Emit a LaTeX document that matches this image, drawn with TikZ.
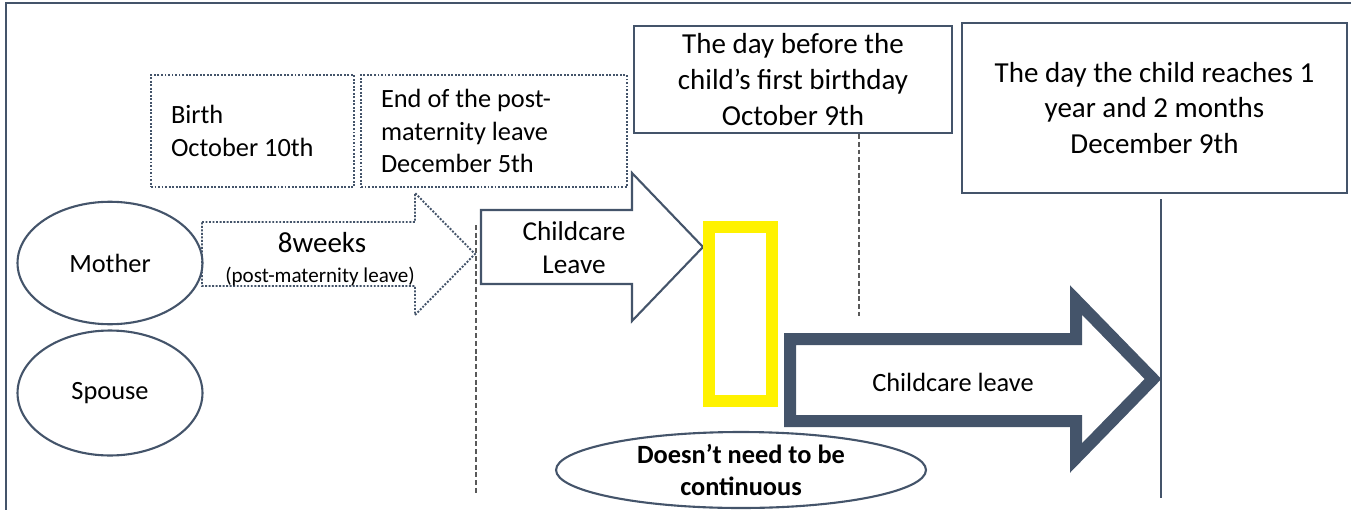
\documentclass[tikz,border=0pt]{standalone}
\usepackage{fontspec}
\setmainfont{Carlito}
\usetikzlibrary{shapes.geometric}
\definecolor{slate}{HTML}{44546A}
\definecolor{dashgray}{HTML}{595959}

\begin{document}
\begin{tikzpicture}[x=0.02cm,y=-0.02cm,
  actor/.style={ellipse,draw=slate,line width=1.2pt,minimum width=3.7cm,minimum height=2.45cm,font=\fontsize{15}{18}\selectfont},
  datebox/.style={draw=slate,line width=1.1pt,dash pattern=on 1.1pt off 0.9pt,align=flush left,text width=#1,inner xsep=0.4cm,minimum height=2.24cm,font=\fontsize{15}{18.5}\selectfont},
  markbox/.style={draw=slate,line width=1.2pt,align=center,font=\fontsize{16.5}{20.4}\selectfont},
  dayline/.style={dashgray,line width=0.7pt,dash pattern=on 2.8pt off 1.6pt},
  dotarrow/.style={slate,line width=1.1pt,dash pattern=on 1.1pt off 0.9pt}]
 \useasboundingbox (0,0) rectangle (1351,510);
 \draw[slate,line width=1.5pt] (6,510) -- (6,3) -- (1351,3);
 \node[actor] (mother) at (110,263) {Mother};
 \node[actor,minimum height=2.5cm] (spouse) at (110,393) {Spouse};
 \node[datebox=3.26cm] (birth) at (252.5,131) {Birth\\October 10th};
 \node[datebox=4.52cm] (postend) at (494,131) {End of the post-\\maternity leave\\December 5th};
 \node[markbox,minimum width=6.36cm,minimum height=2.14cm] (firstbday) at (793,79.5) {The day before the\\child’s first birthday\\October 9th};
 \node[markbox,minimum width=7.7cm,minimum height=3.4cm] (reach) at (1154.5,108) {The day the child reaches 1\\year and 2 months\\December 9th};
 \coordinate (endpost) at (476,495);
 \coordinate (oneyear) at (859,316);
 \coordinate (twomonths) at (1161,498);
 \draw[dayline] (endpost |- 0,225) -- (endpost);
 \draw[dayline] (firstbday.south -| oneyear) -- (oneyear);
 \draw[slate,line width=0.6pt] ([yshift=-0.1cm]reach.south -| twomonths) -- (twomonths);
 \draw[dotarrow] (202,222) -- (415,222) -- (415,193) -- (475,254) -- (415,315) -- (415,286) -- (202,286) -- cycle;
 \node[font=\fontsize{16.5}{20}\selectfont] (weeks) at (322,243) {8weeks};
 \node[font=\fontsize{12}{14}\selectfont] (weeksnote) at (320,276) {(post-maternity leave)};
 \draw[slate,line width=1.2pt,fill=white] (481,210) -- (632,210) -- (632,173) -- (703,247) -- (632,321) -- (632,284) -- (481,284) -- cycle;
 \node[align=center,font=\fontsize{15.5}{18.7}\selectfont] (firstleave) at (574,248) {Childcare\\Leave};
 \draw[yellow,line width=0.24cm] (709,227) rectangle (772,401);
 \draw[slate,line width=0.24cm,line join=miter] (790,339) -- (1076,339) -- (1076,300) -- (1153,379) -- (1076,458) -- (1076,421) -- (790,421) -- cycle;
 \node[font=\fontsize{15}{18}\selectfont] (spouseleave) at (953,382) {Childcare leave};
 \node[ellipse,draw=slate,line width=1.2pt,fill=white,minimum width=7.4cm,minimum height=1.52cm,inner sep=0pt,align=center,font=\fontsize{15}{18}\bfseries] (gap) at (741,470) {Doesn’t need to be\\continuous};
\end{tikzpicture}
\end{document}
